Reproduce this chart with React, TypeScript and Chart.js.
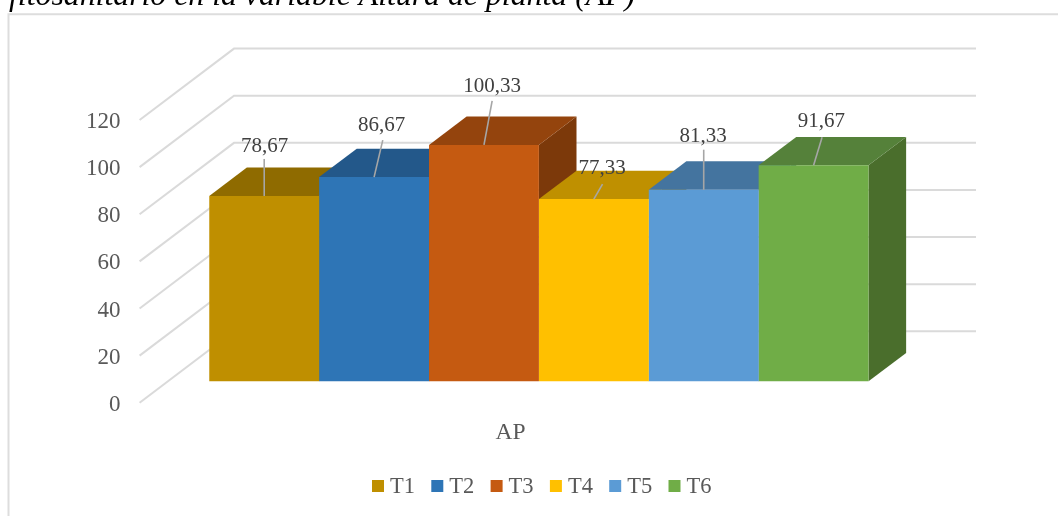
import { useEffect, useRef } from "react";
import { Chart, registerables } from "chart.js";

Chart.register(...registerables);

const categories = ["AP"];
const seriesNames = ["T1", "T2", "T3", "T4", "T5", "T6"];
const seriesValues = [78.67, 86.67, 100.33, 77.33, 81.33, 91.67];
const frontColors = ["#BF8F00", "#2E75B6", "#C55A11", "#FFC000", "#5B9BD5", "#70AD47"];
const topColors = ["#8F6B00", "#23588A", "#94440D", "#BF9000", "#44749F", "#55813A"];
const sideColors = ["#7A5B00", "#1E4B75", "#7C390A", "#A37B00", "#3A6387", "#4A6E2C"];
// Where each value label sits relative to the top of its bar, and its leader's far end.
const leaderDx = [0, 8.7, 8.2, 8.7, 0, 8.5];
const leaderDy = [-37, -37, -44, -15, -40, -28];
const labelDx = [0.5, 7.5, 8.2, 8.4, -0.5, 7.8];
const labelDy = [-49.5, -51.5, -58.5, -30.5, -53.5, -43.5];

const titleText = "fitosanitario en la variable Altura de planta (AP)";
const SERIF = "'Liberation Serif', serif";
const GRID = "#DADADA";

// Perspective of the box: wall depth for the axis plane, floor offset and thickness for the bars.
const WALL = { dx: 94.4, dy: -71.4 };
const FLOOR = { dx: 28.3, dy: -21.4 };
const BAR_DEPTH = { dx: 37.6, dy: -28.4 };
const WALL_END_X = 976;
const TICK_LABEL_DROP = 2;

const fillPoly = (ctx: CanvasRenderingContext2D, pts: number[][], color: string) => {
  ctx.fillStyle = color;
  ctx.beginPath();
  pts.forEach(([x, y], i) => (i ? ctx.lineTo(x, y) : ctx.moveTo(x, y)));
  ctx.closePath();
  ctx.fill();
};

const framePlugin = {
  id: "frame",
  beforeDraw(chart: any) {
    const { ctx, width, height } = chart;
    ctx.save();
    ctx.fillStyle = "#FFFFFF";
    ctx.fillRect(0, 0, width, height);
    ctx.strokeStyle = "#DDDDDD";
    ctx.lineWidth = 2;
    ctx.beginPath();
    ctx.moveTo(8.5, height);
    ctx.lineTo(8.5, 14.3);
    ctx.lineTo(width, 14.3);
    ctx.stroke();
    ctx.fillStyle = "#000000";
    ctx.font = `italic 31.8px ${SERIF}`;
    ctx.textBaseline = "alphabetic";
    ctx.fillText(titleText, 9, 4.5);
    ctx.restore();
  },
};

const box3dPlugin = {
  id: "box3d",
  beforeDatasetsDraw(chart: any) {
    const { ctx, scales, chartArea } = chart;
    const y = scales.y;
    ctx.save();
    ctx.strokeStyle = GRID;
    ctx.lineWidth = 2;
    for (const tick of y.ticks) {
      const py = y.getPixelForValue(tick.value);
      ctx.beginPath();
      ctx.moveTo(chartArea.left, py);
      ctx.lineTo(chartArea.left + WALL.dx, py + WALL.dy);
      ctx.lineTo(WALL_END_X, py + WALL.dy);
      ctx.stroke();
    }
    ctx.restore();

    ctx.save();
    ctx.translate(FLOOR.dx, FLOOR.dy);
    const { dx, dy } = BAR_DEPTH;
    chart.data.datasets.forEach((_: any, i: number) => {
      const bar = chart.getDatasetMeta(i).data[0];
      const { x, y: top, base, width } = bar.getProps(["x", "y", "base", "width"], true);
      const l = x - width / 2;
      const r = x + width / 2;
      fillPoly(ctx, [[r, top], [r + dx, top + dy], [r + dx, base + dy], [r, base]], sideColors[i]);
      fillPoly(ctx, [[l, top], [l + dx, top + dy], [r + dx, top + dy], [r, top]], topColors[i]);
    });
    // The translation stays on while the library paints the front faces.
  },
  afterDatasetsDraw(chart: any) {
    const { ctx } = chart;
    ctx.restore();
    ctx.save();
    ctx.translate(FLOOR.dx, FLOOR.dy);
    ctx.font = `21px ${SERIF}`;
    ctx.textAlign = "center";
    ctx.textBaseline = "middle";
    chart.data.datasets.forEach((ds: any, i: number) => {
      const bar = chart.getDatasetMeta(i).data[0];
      const { x, y: top } = bar.getProps(["x", "y"], true);
      // The leader starts from the middle of the front face's top edge.
      ctx.strokeStyle = "#A6A6A6";
      ctx.lineWidth = 1.6;
      ctx.beginPath();
      ctx.moveTo(x, top);
      ctx.lineTo(x + leaderDx[i], top + leaderDy[i]);
      ctx.stroke();
      ctx.fillStyle = "#404040";
      ctx.fillText(ds.data[0].toFixed(2).replace(".", ","), x + labelDx[i], top + labelDy[i]);
    });
    ctx.restore();
  },
};

const legendPlugin = {
  id: "swatchLegend",
  afterDraw(chart: any) {
    const { ctx } = chart;
    const startX = 372;
    const step = 59.3;
    const cy = 486;
    ctx.save();
    ctx.font = `22.5px ${SERIF}`;
    ctx.textAlign = "left";
    ctx.textBaseline = "middle";
    chart.data.datasets.forEach((ds: any, i: number) => {
      const x = startX + i * step;
      ctx.fillStyle = ds.backgroundColor;
      ctx.fillRect(x, cy - 6, 12, 12);
      ctx.fillStyle = "#595959";
      ctx.fillText(ds.label, x + 18, cy + 1.5);
    });
    ctx.restore();
  },
};

export default function App() {
  const canvasRef = useRef<HTMLCanvasElement>(null);

  useEffect(() => {
    const chart = new Chart(canvasRef.current!, {
      type: "bar",
      data: {
        labels: categories,
        datasets: seriesNames.map((label, i) => ({
          label,
          data: [seriesValues[i]],
          backgroundColor: frontColors[i],
          borderWidth: 0,
          clip: false as any,
        })),
      },
      options: {
        responsive: false,
        animation: false,
        layout: { padding: { top: 120, right: 176.4, left: 0, bottom: 0 } },
        datasets: { bar: { categoryPercentage: 0.8885, barPercentage: 1 } },
        plugins: { legend: { display: false }, title: { display: false }, tooltip: { enabled: false } },
        scales: {
          x: {
            grid: { display: false, drawTicks: false },
            border: { display: false },
            ticks: { color: "#595959", font: { family: SERIF, size: 23.5 }, padding: 16 },
            afterFit(scale: any) {
              scale.height = 113.3;
            },
          },
          y: {
            min: 0,
            max: 120,
            grid: { display: false, drawTicks: false },
            border: { display: false },
            ticks: { stepSize: 20, color: "#595959", font: { family: SERIF, size: 23 }, padding: 19 },
            afterFit(scale: any) {
              scale.width = 139.6;
              // Value labels sit a little below their wall lines.
              const drawLabels = Object.getPrototypeOf(scale).drawLabels;
              scale.drawLabels = function (area: any) {
                this.ctx.save();
                this.ctx.translate(0, TICK_LABEL_DROP);
                drawLabels.call(this, area);
                this.ctx.restore();
              };
            },
          },
        },
      },
      plugins: [framePlugin, box3dPlugin, legendPlugin],
    });
    return () => chart.destroy();
  }, []);

  return (
    <div style={{ position: "fixed", left: 0, top: 0, width: 1058, height: 516 }}>
      <canvas ref={canvasRef} width={1058} height={516} style={{ display: "block" }} />
    </div>
  );
}
